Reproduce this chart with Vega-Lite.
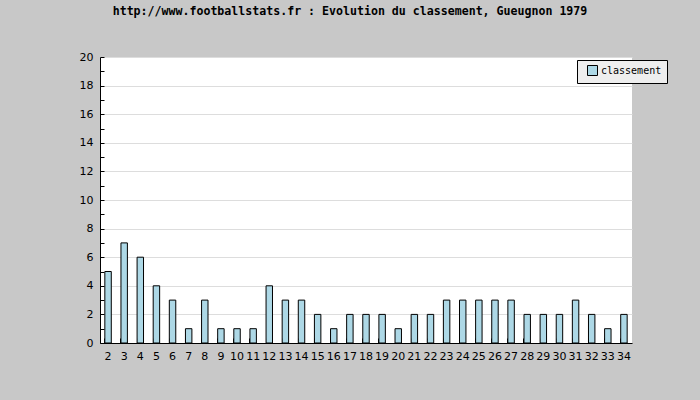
{
  "$schema": "https://vega.github.io/schema/vega-lite/v6.json",
  "width": 532,
  "height": 286,
  "autosize": {"type": "none"},
  "padding": {"left": 100, "top": 57, "right": 68, "bottom": 57},
  "background": "#c8c8c8",
  "title": {
    "text": "http://www.footballstats.fr : Evolution du classement, Gueugnon 1979",
    "font": "DejaVu Sans Mono",
    "fontSize": 11.6,
    "fontWeight": "bold",
    "color": "#000000",
    "anchor": "middle",
    "dx": -16,
    "offset": 33
  },
  "config": {
    "view": {"fill": "white", "stroke": null},
    "axis": {
      "labelFont": "DejaVu Sans",
      "labelFontSize": 11,
      "labelColor": "#000000",
      "domainColor": "#000000",
      "tickColor": "#000000",
      "domainWidth": 1
    }
  },
  "data": {
    "values": [
      {"journee": 2, "classement": 5},
      {"journee": 3, "classement": 7},
      {"journee": 4, "classement": 6},
      {"journee": 5, "classement": 4},
      {"journee": 6, "classement": 3},
      {"journee": 7, "classement": 1},
      {"journee": 8, "classement": 3},
      {"journee": 9, "classement": 1},
      {"journee": 10, "classement": 1},
      {"journee": 11, "classement": 1},
      {"journee": 12, "classement": 4},
      {"journee": 13, "classement": 3},
      {"journee": 14, "classement": 3},
      {"journee": 15, "classement": 2},
      {"journee": 16, "classement": 1},
      {"journee": 17, "classement": 2},
      {"journee": 18, "classement": 2},
      {"journee": 19, "classement": 2},
      {"journee": 20, "classement": 1},
      {"journee": 21, "classement": 2},
      {"journee": 22, "classement": 2},
      {"journee": 23, "classement": 3},
      {"journee": 24, "classement": 3},
      {"journee": 25, "classement": 3},
      {"journee": 26, "classement": 3},
      {"journee": 27, "classement": 3},
      {"journee": 28, "classement": 2},
      {"journee": 29, "classement": 2},
      {"journee": 30, "classement": 2},
      {"journee": 31, "classement": 3},
      {"journee": 32, "classement": 2},
      {"journee": 33, "classement": 1},
      {"journee": 34, "classement": 2}
    ]
  },
  "mark": {"type": "bar", "stroke": "#000000", "strokeWidth": 1},
  "encoding": {
    "x": {
      "field": "journee",
      "type": "ordinal",
      "scale": {"paddingInner": 0.6, "paddingOuter": 0.3},
      "axis": {
        "title": null,
        "labelAngle": 0,
        "bandPosition": 0,
        "tickSize": -5,
        "labelPadding": 12,
        "grid": false
      }
    },
    "y": {
      "field": "classement",
      "type": "quantitative",
      "scale": {"domain": [0, 20], "nice": false},
      "axis": {
        "title": null,
        "values": [0,1,2,3,4,5,6,7,8,9,10,11,12,13,14,15,16,17,18,19,20],
        "labelExpr": "datum.value % 2 == 0 ? datum.label : ''",
        "tickSize": -4,
        "labelPadding": 11,
        "grid": true,
        "gridColor": {"condition": {"test": "datum.value % 2 == 1 || datum.value == 0", "value": "transparent"}, "value": "#dddddd"}
      }
    },
    "color": {
      "datum": "classement",
      "scale": {"range": ["#add8e6"]},
      "legend": {
        "title": null,
        "orient": "none",
        "legendX": 477,
        "legendY": 3,
        "fillColor": "#eeeeee",
        "strokeColor": "#000000",
        "padding": 5,
        "symbolType": "square",
        "symbolSize": 100,
        "symbolOffset": 5,
        "labelOffset": 3,
        "symbolStrokeColor": "#000000",
        "symbolStrokeWidth": 1,
        "labelFont": "DejaVu Sans Mono",
        "labelFontSize": 10,
        "labelColor": "#000000"
      }
    }
  }
}
